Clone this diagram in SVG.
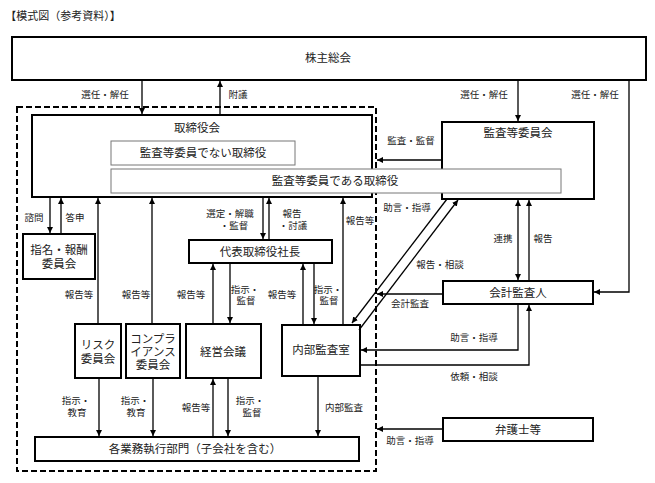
<svg xmlns="http://www.w3.org/2000/svg" width="655" height="483" viewBox="0 0 655 483">
<style>
text{font-family:"Liberation Sans","Noto Sans CJK JP",sans-serif;fill:#222;text-anchor:middle;dominant-baseline:central}
.box{fill:#fff;stroke:#000;stroke-width:2}
.inner{fill:#fff;stroke:#777;stroke-width:1}
.t{font-size:11.5px}
.l{font-size:9.5px}
.c path{fill:none;stroke:#000;stroke-width:1.3;marker-end:url(#ah)}
</style>
<defs>
<marker id="ah" viewBox="0 0 6 6" refX="6" refY="3" markerWidth="6" markerHeight="6" markerUnits="userSpaceOnUse" orient="auto"><path d="M0,0 L6,3 L0,6 z" fill="#000"/></marker>
<marker id="ahs" viewBox="0 0 6 6" refX="0" refY="3" markerWidth="6" markerHeight="6" markerUnits="userSpaceOnUse" orient="auto"><path d="M6,0 L0,3 L6,6 z" fill="#000"/></marker>
</defs>
<rect width="655" height="483" fill="#fff"/>
<text x="63" y="16" style="font-size:11px">【模式図（参考資料）】</text>

<rect id="scope" x="17" y="107" width="359" height="364" fill="none" stroke="#000" stroke-width="2" stroke-dasharray="6,3"/>

<g id="shareholders"><rect class="box" x="12" y="37" width="634" height="43"/><text class="t" x="328" y="58">株主総会</text></g>
<g id="board"><rect class="box" x="32" y="115" width="340" height="82"/><text class="t" x="197" y="128">取締役会</text></g>
<g id="audit-committee"><rect class="box" x="442" y="122" width="152" height="77"/><text class="t" x="518" y="133">監査等委員会</text></g>
<g id="non-audit-directors"><rect class="inner" x="111" y="141" width="184" height="24"/><text class="t" x="203" y="153">監査等委員でない取締役</text></g>
<g id="audit-directors"><rect class="inner" x="111" y="169" width="450" height="24"/><text class="t" x="335" y="181">監査等委員である取締役</text></g>
<g id="nomination"><rect class="box" x="23" y="234" width="72" height="45"/><text class="t" x="59" y="250">指名・報酬<tspan x="59" dy="13.5">委員会</tspan></text></g>
<g id="president"><rect class="box" x="189" y="240" width="143" height="23"/><text class="t" x="260" y="252">代表取締役社長</text></g>
<g id="risk"><rect class="box" x="75" y="324" width="46" height="54"/><text class="t" x="98" y="345">リスク<tspan x="98" dy="13.5">委員会</tspan></text></g>
<g id="compliance"><rect class="box" x="126" y="324" width="54" height="54"/><text class="t" x="153" y="338.5">コンプラ<tspan x="153" dy="13">イアンス</tspan><tspan x="153" dy="13">委員会</tspan></text></g>
<g id="management"><rect class="box" x="186" y="324" width="75" height="54"/><text class="t" x="223" y="352">経営会議</text></g>
<g id="internal-audit"><rect class="box" x="282" y="325" width="78" height="51"/><text class="t" x="321" y="350">内部監査室</text></g>
<g id="divisions"><rect class="box" x="35" y="437" width="324" height="24"/><text class="t" x="195" y="449">各業務執行部門（子会社を含む）</text></g>
<g id="accounting-auditor"><rect class="box" x="443" y="281" width="150" height="23"/><text class="t" x="518" y="293">会計監査人</text></g>
<g id="lawyers"><rect class="box" x="443" y="418" width="150" height="23"/><text class="t" x="518" y="430">弁護士等</text></g>

<g id="connectors" class="c">
<path d="M142,80 V114"/>
<path d="M220,115 V81"/>
<path d="M518,80 V121"/>
<path d="M629,80 V292 H594"/>
<path d="M442,160 H377"/>
<path d="M518,200 V280" style="marker-start:url(#ahs)"/>
<path d="M529,281 V200"/>
<path d="M443,294 H377"/>
<path d="M518,305 V350 H361"/>
<path d="M360,365 H529 V305"/>
<path d="M443,429 H377"/>
<path d="M447,199 L352,323"/>
<path d="M359,330 L458,200"/>
<path d="M50,198 V233"/>
<path d="M61,233 V198"/>
<path d="M98,323 V198"/>
<path d="M152,323 V198"/>
<path d="M263,198 V239"/>
<path d="M269,239 V198"/>
<path d="M343,324 V198"/>
<path d="M213,323 V264"/>
<path d="M230,264 V323"/>
<path d="M303,324 V264"/>
<path d="M314,264 V324"/>
<path d="M99,379 V436"/>
<path d="M153,379 V436"/>
<path d="M213,436 V379"/>
<path d="M228,379 V436"/>
<path d="M318,377 V436"/>
</g>

<g id="labels">
<text class="l" x="105" y="94">選任・解任</text>
<text class="l" x="238" y="94">附議</text>
<text class="l" x="484" y="94">選任・解任</text>
<text class="l" x="595" y="94">選任・解任</text>
<text class="l" x="411" y="140">監査・監督</text>
<text class="l" x="407" y="207">助言・指導</text>
<text class="l" x="440" y="264">報告・相談</text>
<text class="l" x="503" y="238">連携</text>
<text class="l" x="543" y="238">報告</text>
<text class="l" x="410" y="303">会計監査</text>
<text class="l" x="474" y="337">助言・指導</text>
<text class="l" x="474" y="376">依頼・相談</text>
<text class="l" x="410" y="440">助言・指導</text>
<text class="l" x="34" y="217">諮問</text>
<text class="l" x="75" y="217">答申</text>
<text class="l" x="230" y="213.5">選定・解職<tspan x="234" dy="11">・監督</tspan></text>
<text class="l" x="292" y="213.5">報告<tspan x="293" dy="11">・討議</tspan></text>
<text class="l" x="360" y="220">報告等</text>
<text class="l" x="79" y="294">報告等</text>
<text class="l" x="136" y="294">報告等</text>
<text class="l" x="191" y="294">報告等</text>
<text class="l" x="245" y="289">指示・<tspan x="246" dy="11">監督</tspan></text>
<text class="l" x="282" y="294">報告等</text>
<text class="l" x="328" y="289">指示・<tspan x="329" dy="11">監督</tspan></text>
<text class="l" x="76" y="400">指示・<tspan x="77" dy="12">教育</tspan></text>
<text class="l" x="135" y="400">指示・<tspan x="136" dy="12">教育</tspan></text>
<text class="l" x="196" y="407">報告等</text>
<text class="l" x="250" y="400">指示・<tspan x="252" dy="12">監督</tspan></text>
<text class="l" x="344" y="407">内部監査</text>
</g>
</svg>
